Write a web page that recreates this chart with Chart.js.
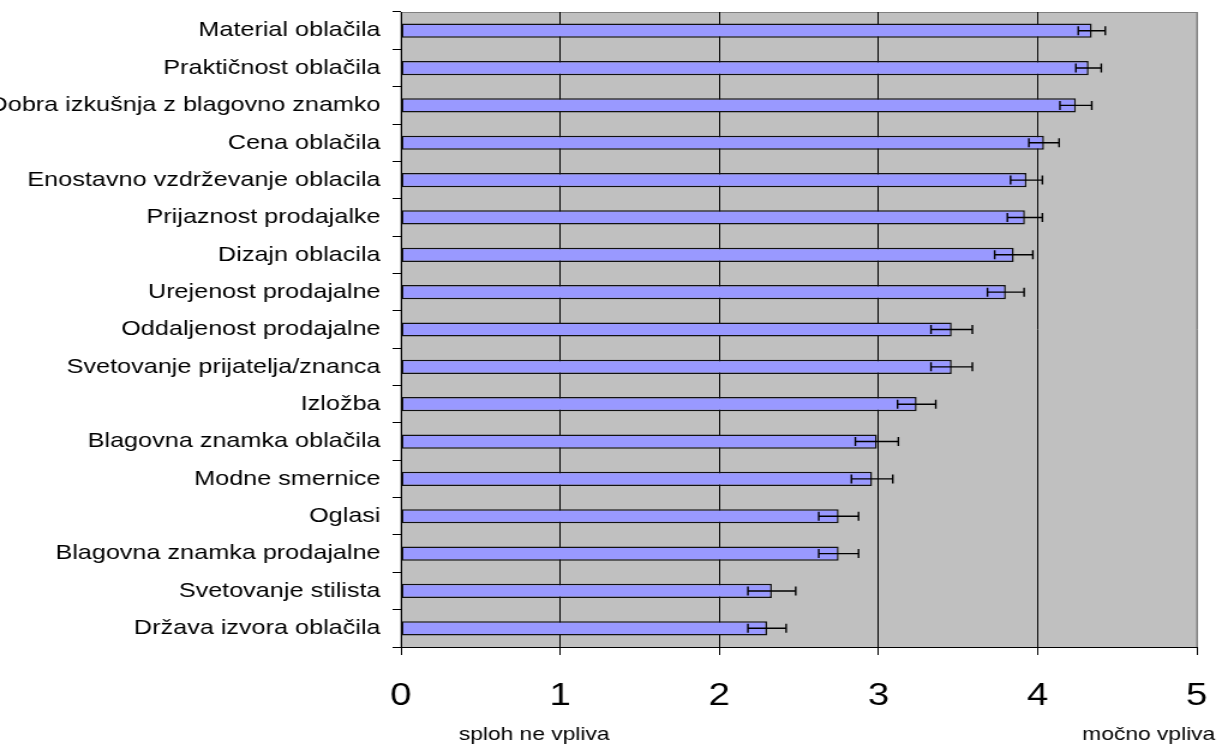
<!DOCTYPE html>
<html>
<head>
    <meta charset="utf-8">
    <title>Vpliv dejavnikov pri nakupu oblačil</title>
    <script src="https://cdn.jsdelivr.net/npm/chart.js"></script>
    <style>
        body { margin: 0; background: #fff; }
    </style>
</head>
<body>
    <!-- the original picture is stretched horizontally, so the canvas is too -->
    <canvas id="chart" width="1018" height="749" style="width:1222px;height:749px"></canvas>

    <script>
        // data
        const categories = [
            'Material oblačila', 'Praktičnost oblačila', 'Dobra izkušnja z blagovno znamko',
            'Cena oblačila', 'Enostavno vzdrževanje oblacila', 'Prijaznost prodajalke',
            'Dizajn oblacila', 'Urejenost prodajalne', 'Oddaljenost prodajalne',
            'Svetovanje prijatelja/znanca', 'Izložba', 'Blagovna znamka oblačila',
            'Modne smernice', 'Oglasi', 'Blagovna znamka prodajalne',
            'Svetovanje stilista', 'Država izvora oblačila'
        ];
        const means = [4.34, 4.32, 4.24, 4.04, 3.93, 3.92, 3.85, 3.80, 3.46, 3.46, 3.24, 2.99, 2.96, 2.75, 2.75, 2.33, 2.30];
        const errors = [0.085, 0.08, 0.10, 0.095, 0.10, 0.11, 0.12, 0.115, 0.13, 0.13, 0.12, 0.135, 0.13, 0.125, 0.125, 0.15, 0.12];
        const xTicks = [0, 1, 2, 3, 4, 5];
        const scaleEnds = ['sploh ne vpliva', 'močno vpliva'];

        const FONT = "'Liberation Sans', Arial, sans-serif";

        // gray plot background with thin gray frame
        const plotBackground = {
            id: 'plotBackground',
            beforeDraw(chart) {
                const { ctx, chartArea: a } = chart;
                ctx.save();
                ctx.fillStyle = '#c0c0c0';
                ctx.fillRect(a.left, a.top, a.right - a.left, a.bottom - a.top);
                ctx.strokeStyle = '#808080';
                ctx.lineWidth = 1;
                ctx.strokeRect(a.left, a.top + 0.5, a.right - a.left, a.bottom - a.top);
                ctx.restore();
            }
        };

        // error bars with caps
        const errorBars = {
            id: 'errorBars',
            afterDatasetsDraw(chart) {
                const { ctx } = chart;
                const x = chart.scales.x;
                const meta = chart.getDatasetMeta(0);
                ctx.save();
                ctx.strokeStyle = '#000';
                ctx.lineWidth = 1.4;
                meta.data.forEach((bar, i) => {
                    const lo = x.getPixelForValue(means[i] - errors[i]);
                    const hi = x.getPixelForValue(means[i] + errors[i]);
                    const y = bar.y;
                    ctx.beginPath();
                    ctx.moveTo(lo, y); ctx.lineTo(hi, y);
                    ctx.moveTo(lo, y - 4.5); ctx.lineTo(lo, y + 4.5);
                    ctx.moveTo(hi, y - 4.5); ctx.lineTo(hi, y + 4.5);
                    ctx.stroke();
                });
                ctx.restore();
            }
        };

        // texts under both ends of the scale
        const endLabels = {
            id: 'endLabels',
            afterDraw(chart) {
                const { ctx, chartArea: a } = chart;
                ctx.save();
                ctx.fillStyle = '#000';
                ctx.font = '19px ' + FONT;
                ctx.textAlign = 'center';
                ctx.textBaseline = 'alphabetic';
                ctx.fillText(scaleEnds[0], a.left + 111, 740);
                ctx.fillText(scaleEnds[1], a.right - 40, 740);
                ctx.restore();
            }
        };

        new Chart(document.getElementById('chart'), {
            type: 'bar',
            data: {
                labels: categories,
                datasets: [{
                    data: means,
                    backgroundColor: '#9999ff',
                    borderColor: '#111',
                    borderWidth: 1.5,
                    borderSkipped: false,
                    barPercentage: 0.38,
                    categoryPercentage: 1
                }]
            },
            options: {
                indexAxis: 'y',
                responsive: false,
                devicePixelRatio: 1,
                animation: false,
                layout: { padding: { top: 12, right: 21, bottom: 0, left: 0 } },
                plugins: {
                    legend: { display: false },
                    tooltip: { enabled: false }
                },
                scales: {
                    x: {
                        min: 0,
                        max: 5,
                        afterBuildTicks: (axis) => { axis.ticks = xTicks.map(v => ({ value: v })); },
                        afterFit: (axis) => {
                            axis.height = 102;
                            axis.paddingLeft = 0;
                            axis.paddingRight = 0;
                        },
                        border: { color: '#000', width: 1 },
                        grid: {
                            color: (c) => c.tick && c.tick.value === 5 ? '#808080' : '#000',
                            tickColor: '#000',
                            tickLength: 8,
                            lineWidth: 1
                        },
                        ticks: {
                            color: '#000',
                            padding: 22,
                            font: { family: FONT, size: 32 }
                        }
                    },
                    y: {
                        afterFit: (axis) => {
                            axis.width = 334;
                            axis.paddingTop = 0;
                            axis.paddingBottom = 0;
                        },
                        border: { color: '#000', width: 1 },
                        grid: {
                            drawOnChartArea: false,
                            offset: true,
                            color: '#000',
                            tickLength: 7
                        },
                        ticks: {
                            color: '#000',
                            padding: 10,
                            font: { family: FONT, size: 21 }
                        }
                    }
                }
            },
            plugins: [plotBackground, errorBars, endLabels]
        });
    </script>
</body>
</html>
